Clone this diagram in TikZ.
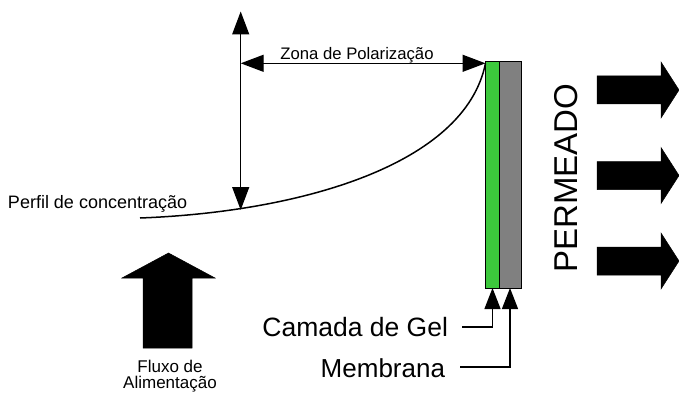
\documentclass[tikz,border=0pt]{standalone}
\usepackage{fontspec}
\setmainfont{Liberation Sans}
\usetikzlibrary{arrows.meta}
\tikzset{
  lbl/.style={inner sep=0pt, outer sep=0pt},
  dimarrow/.style={line width=1.3pt, {Triangle[length=23pt,width=17pt]}-{Triangle[length=23pt,width=17pt]}},
  leadarrow/.style={line width=1.3pt, -{Triangle[length=21pt,width=16pt]}},
  bigarrow/.style={fill=black, draw=black, line width=0.5pt},
}
\definecolor{gelgreen}{RGB}{60,200,60}
\definecolor{memgray}{RGB}{128,128,128}
\begin{document}
\begin{tikzpicture}[x=1pt,y=-1pt]
\useasboundingbox (0,0) rectangle (679,393);
% membrane layers
\draw[fill=gelgreen, line width=1pt] (485.5,62) rectangle (499.3,288);
\draw[fill=memgray, line width=1pt] (499.3,62) rectangle (521.5,288);
\coordinate (memtop) at (485.5,63.3);
\coordinate (gelbot) at (492.5,288);
\coordinate (membot) at (510,288);
% dimension arrows
\coordinate (vtop) at (240.7,11.5);
\coordinate (vbot) at (240.7,210);
\coordinate (hleft) at (240.7,63.3);
\draw[dimarrow] (vtop) -- (vbot);
\draw[dimarrow] (hleft) -- (memtop);
\node[lbl, anchor=base] (zona) at (357,60) {\fontsize{16.7}{16.7}\selectfont Zona de Polariza\c{c}\~ao};
% concentration profile
\coordinate (cstart) at (140,218);
\draw[line width=1.5pt] (cstart) .. controls (300,212) and (465,165) .. (memtop);
\node[lbl, anchor=base west] (perfil) at (8,208) {\fontsize{18}{18}\selectfont Perfil de concentra\c{c}\~ao};
% feed arrow
\fill[bigarrow] (143,348) -- (143,278) -- (122,278) -- (168.5,253) -- (215,278) -- (192,278) -- (192,348) -- cycle;
\node[lbl, anchor=base] (fluxo) at (170,372) {\fontsize{17}{17}\selectfont Fluxo de};
\node[lbl, anchor=base] (alim) at (170,388) {\fontsize{17}{17}\selectfont Alimenta\c{c}\~ao};
% permeate arrows
\foreach \c in {90,175.5,261}{
  \fill[bigarrow] (597,\c-14) -- (661,\c-14) -- (661,\c-28) -- (679,\c) -- (661,\c+28) -- (661,\c+14) -- (597,\c+14) -- cycle;
}
\node[lbl, rotate=90] (perm) at (566,178) {\fontsize{33}{33}\selectfont PERMEADO};
% labels
\node[lbl, anchor=base east] (camada) at (448,336) {\fontsize{26.5}{26.5}\selectfont Camada de Gel};
\node[lbl, anchor=base east] (membrana) at (445,377) {\fontsize{26}{26}\selectfont Membrana};
\coordinate (cl) at (462,327);
\coordinate (ml) at (460,367);
\draw[leadarrow] (cl) -| (gelbot);
\draw[leadarrow] (ml) -| (membot);
\end{tikzpicture}
\end{document}
